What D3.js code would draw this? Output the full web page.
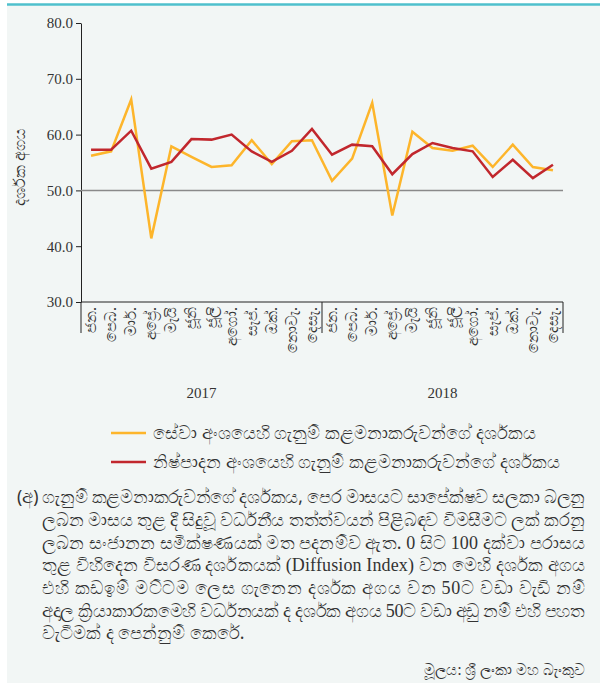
<!DOCTYPE html>
<html>
<head>
<meta charset="utf-8">
<script src="https://cdnjs.cloudflare.com/ajax/libs/d3/7.8.5/d3.min.js"></script>
<style>
  html, body { margin: 0; padding: 0; background: #fff; }
  #chart { width: 600px; height: 689px; }
</style>
</head>
<body>
<div id="chart"></div>
<script>
const years = ["2017", "2018"];
const months = ["ජන.", "පෙබ.", "මාර්.", "අප්‍රේ.", "මැයි", "ජූනි", "ජූලි", "අගෝ.", "සැප්.", "ඔක්.", "නොවැ.", "දෙසැ."];
const services = [56.2, 57.0, 66.3, 41.4, 57.9, 56.0, 54.2, 54.5, 59.0, 54.7, 58.8, 59.0,
                  51.7, 55.7, 65.7, 45.5, 60.5, 57.6, 57.1, 58.0, 54.2, 58.2, 54.2, 53.6];
const manufacturing = [57.3, 57.3, 60.7, 53.9, 55.1, 59.2, 59.1, 60.0, 57.0, 55.1, 57.1, 61.0,
                       56.4, 58.2, 57.9, 52.9, 56.5, 58.5, 57.6, 57.0, 52.4, 55.5, 52.2, 54.6];
const yTicks = [30, 40, 50, 60, 70, 80];
const threshold = 50;
const legendLabels = ["සේවා අංශයෙහි ගැනුම් කළමනාකරුවන්ගේ දර්ශකය", "නිෂ්පාදන අංශයෙහි ගැනුම් කළමනාකරුවන්ගේ දර්ශකය"];
const yTitle = "දර්ශක අගය";
const noteLines = [
  "ගැනුම් කළමනාකරුවන්ගේ දර්ශකය, පෙර මාසයට සාපේක්ෂව සලකා බලනු",
  "ලබන මාසය තුළ දී සිදුවූ වර්ධනීය තත්ත්වයන් පිළිබඳව විමසීමට ලක් කරනු",
  "ලබන සංජානන සමීක්ෂණයක් මත පදනම්ව ඇත. 0 සිට 100 දක්වා පරාසය",
  "තුළ විහිදෙන විසරණ දර්ශකයක් (Diffusion Index) වන මෙහි දර්ශක අගය",
  "එහි කඩඉම් මට්ටම ලෙස ගැනෙන දර්ශක අගය වන 50ට වඩා වැඩි නම්",
  "අදාල ක්‍රියාකාරකමෙහි වර්ධනයක් ද දර්ශක අගය 50ට වඩා අඩු නම් එහි පහත",
  "වැටීමක් ද පෙන්නුම් කෙරේ."
];
const source = "මූලය: ශ්‍රී ලංකා මහ බැංකුව";

function drawChart(selector) {
    const width = 600, height = 689;
    const plot = { left: 81, right: 563, top: 23, bottom: 302 };
    const serif = "'Liberation Serif', 'DejaVu Serif', serif";
    const sans = "'Noto Sans', 'DejaVu Sans', sans-serif";
    const yellow = "#fdb52b", red = "#c1272d";

    const svg = d3.select(selector).append("svg")
        .attr("width", width)
        .attr("height", height);

    // panel
    svg.append("rect").attr("x", 7).attr("y", 5).attr("width", width - 7).attr("height", 678)
        .style("fill", "#f2f6f5");
    svg.append("line").attr("x1", 7).attr("x2", width).attr("y1", 4.5).attr("y2", 4.5)
        .style("stroke", "#4fc0cd").style("stroke-width", 2.5);

    const cats = d3.range(services.length);
    const x = d3.scaleBand().domain(cats).range([plot.left, plot.right]);
    const y = d3.scaleLinear().domain([30, 80]).range([plot.bottom, plot.top]);

    // y axis
    const yAxis = svg.append("g")
        .attr("transform", `translate(${plot.left},0)`)
        .call(d3.axisLeft(y).tickValues(yTicks).tickFormat(d3.format(".1f")).tickSize(5).tickSizeOuter(0));
    yAxis.selectAll("text").style("font-family", serif).style("font-size", "15px").style("fill", "#333").attr("x", -8);
    yAxis.selectAll("line, path").style("stroke", "#222");

    svg.append("text")
        .attr("transform", `translate(25,167) rotate(-90)`)
        .attr("text-anchor", "middle")
        .style("font-family", sans).style("font-size", "16px").style("fill", "#333")
        .text(yTitle);

    // threshold line
    svg.append("line")
        .attr("x1", plot.left).attr("x2", plot.right)
        .attr("y1", y(threshold)).attr("y2", y(threshold))
        .style("stroke", "#8a8a8a").style("stroke-width", 1.5);

    // x axis
    svg.append("line").attr("x1", plot.left).attr("x2", plot.right).attr("y1", plot.bottom).attr("y2", plot.bottom)
        .style("stroke", "#222").style("stroke-width", 1);
    const yearX = d3.scaleBand().domain(years).range([plot.left, plot.right]);
    [plot.left, ...years.map(yr => yearX(yr) + yearX.bandwidth())].forEach(px => {
        svg.append("line").attr("x1", px).attr("x2", px).attr("y1", plot.bottom).attr("y2", plot.bottom + 31)
            .style("stroke", "#222").style("stroke-width", 1);
    });

    svg.selectAll(".month")
        .data(cats)
        .enter()
        .append("text")
        .attr("class", "month")
        .attr("transform", d => `translate(${x(d) + x.bandwidth() / 2 + 5},${plot.bottom + 5}) rotate(-90)`)
        .attr("text-anchor", "end")
        .style("font-family", sans).style("font-size", "15px").style("fill", "#333")
        .text(d => months[d % 12]);

    svg.selectAll(".year")
        .data(years)
        .enter()
        .append("text")
        .attr("x", d => yearX(d) + yearX.bandwidth() / 2)
        .attr("y", 398)
        .attr("text-anchor", "middle")
        .style("font-family", serif).style("font-size", "15px").style("fill", "#333")
        .text(d => d);

    // lines
    const line = d3.line()
        .x((d, i) => x(i) + x.bandwidth() / 2)
        .y(d => y(d));

    svg.append("path").datum(services).attr("d", line)
        .style("fill", "none").style("stroke", yellow).style("stroke-width", 2.5);
    svg.append("path").datum(manufacturing).attr("d", line)
        .style("fill", "none").style("stroke", red).style("stroke-width", 2.5);

    // legend
    const legend = svg.selectAll(".legend")
        .data(legendLabels)
        .enter()
        .append("g")
        .attr("transform", (d, i) => `translate(111,${433 + i * 29})`);
    legend.append("line").attr("x1", 0).attr("x2", 35).attr("y1", 0).attr("y2", 0)
        .style("stroke", (d, i) => i === 0 ? yellow : red).style("stroke-width", 2.5);
    legend.append("text").attr("x", 42).attr("dy", "0.35em")
        .style("font-family", sans).style("font-size", "18px").style("fill", "#333")
        .text(d => d);

    // note: justified lines, latin runs (digits, "Diffusion Index") set in a serif face
    svg.append("text").attr("x", 17).attr("y", 497).attr("dy", "0.35em")
        .style("font-family", sans).style("font-size", "17.5px").style("fill", "#333")
        .text("(අ)");
    const notes = svg.selectAll(".note")
        .data(noteLines)
        .enter()
        .append("text")
        .attr("x", 42)
        .attr("y", (d, i) => 497 + i * 22.7)
        .attr("dy", "0.35em")
        .attr("textLength", (d, i) => i < noteLines.length - 1 ? 585 - 42 : null)
        .attr("lengthAdjust", "spacing")
        .style("font-family", sans).style("font-size", "17.5px").style("fill", "#333");
    notes.each(function(d) {
        const el = d3.select(this);
        d.split(/([0-9]+|\(Diffusion Index\))/).forEach(part => {
            if (!part) return;
            const latin = /^[0-9]+$|Diffusion/.test(part);
            el.append("tspan")
                .style("font-family", latin ? "'Liberation Serif'" : sans)
                .style("font-size", latin ? "18px" : "17.5px")
                .text(part);
        });
    });

    svg.append("text").attr("x", 585).attr("y", 670).attr("dy", "0.35em")
        .attr("text-anchor", "end")
        .style("font-family", sans).style("font-size", "15px").style("fill", "#333")
        .text(source);
}

drawChart("#chart");
</script>
</body>
</html>
